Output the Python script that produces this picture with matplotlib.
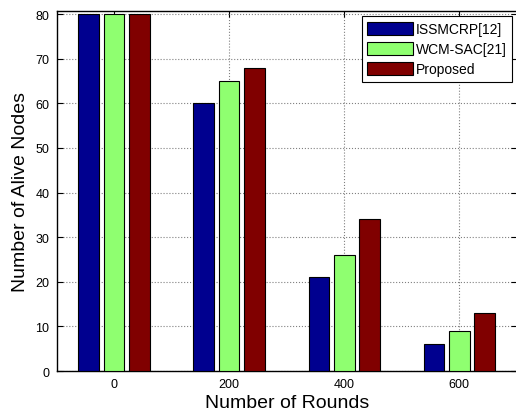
import matplotlib
matplotlib.use("Agg")
import matplotlib.pyplot as plt
import numpy as np

plt.rcParams['font.family'] = ['Liberation Sans', 'DejaVu Sans']

rounds = [0, 200, 400, 600]
series_names = ["ISSMCRP[12]", "WCM-SAC[21]", "Proposed"]
issmcrp = [80, 60, 21, 6]
wcm_sac = [80, 65, 26, 9]
proposed = [80, 68, 34, 13]
colors = ["#00008F", "#8FFF70", "#800000"]
yticks = [0, 10, 20, 30, 40, 50, 60, 70, 80]

fig = plt.figure(figsize=(5.16, 4.14), dpi=100)
ax = fig.add_axes([0.1095, 0.1014, 0.892, 0.8696])

x = np.array(rounds, dtype=float)
offset = 44
width = 36
for i, (vals, name, c) in enumerate(zip([issmcrp, wcm_sac, proposed], series_names, colors)):
    ax.bar(x + (i - 1) * offset, vals, width=width, color=c, edgecolor="black",
           linewidth=0.8, label=name, zorder=3)

ax.set_xlim(-100, 700)
ax.set_ylim(0, 80.7)
ax.set_xticks(rounds)
ax.set_yticks(yticks)
ax.grid(True, linestyle=":", color="#808080", linewidth=0.8, zorder=0)
ax.set_axisbelow(True)
ax.tick_params(direction="in", top=True, right=True, length=4, width=0.8,
               labelsize=9, pad=5)
for s in ax.spines.values():
    s.set_linewidth(1.0)
    s.set_color("black")

ax.set_xlabel("Number of Rounds", fontsize=14, labelpad=3)
ax.set_ylabel("Number of Alive Nodes", fontsize=14, labelpad=5)

leg = ax.legend(loc="upper right", bbox_to_anchor=(0.99, 0.985), fontsize=10,
                fancybox=False, shadow=False, framealpha=1, edgecolor="black",
                handlelength=3.3, handleheight=1.05, handletextpad=0.2,
                labelspacing=0.42, borderpad=0.4, borderaxespad=0)
leg.get_frame().set_linewidth(0.8)

fig.savefig("out.png", dpi=100)
